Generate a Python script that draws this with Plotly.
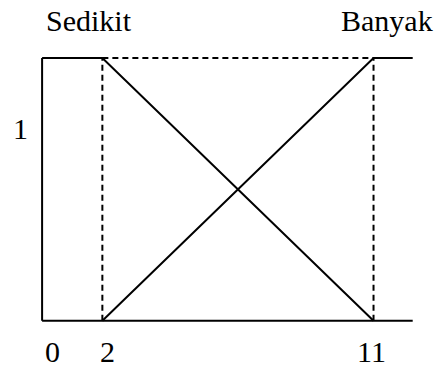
import plotly.graph_objects as go

# Data
x_ticks = [0, 2, 11]
x_tick_labels = ["0", "2", "11"]
y_ticks = [1]
y_tick_labels = ["1"]
x_max = 12.3

sedikit_x = [0, 2, 11]
sedikit_y = [1, 1, 0]
banyak_x = [2, 11, x_max]
banyak_y = [0, 1, 1]
set_names = ["Sedikit", "Banyak"]

W, H = 438, 368
X0PX, XSCALE = 42.1, 30.13
Y0PX, Y1PX = 320.7, 58.0
YSCALE = Y0PX - Y1PX

def dx(px):
    return (px - X0PX) / XSCALE

def dy(py):
    return (Y0PX - py) / YSCALE

line = dict(color="black", width=2)
dash = dict(color="black", width=2, dash="6px,4px")

fig = go.Figure()
# axes
fig.add_trace(go.Scatter(x=[0, 0], y=[0, y_ticks[0]], mode="lines", line=line))
fig.add_trace(go.Scatter(x=[0, x_max], y=[0, 0], mode="lines", line=line))
# dashed guides
fig.add_trace(go.Scatter(x=[x_ticks[1], x_ticks[1]], y=[0, 1], mode="lines", line=dash))
fig.add_trace(go.Scatter(x=[x_ticks[2], x_ticks[2]], y=[0, 1], mode="lines", line=dash))
fig.add_trace(go.Scatter(x=[x_ticks[1], x_ticks[2]], y=[1, 1], mode="lines", line=dash))
# membership functions
fig.add_trace(go.Scatter(x=sedikit_x, y=sedikit_y, mode="lines", line=line, name=set_names[0]))
fig.add_trace(go.Scatter(x=banyak_x, y=banyak_y, mode="lines", line=line, name=set_names[1]))

font = dict(family="Liberation Serif", size=30, color="black")
ann = []
tick_px = [(52, 351), (107.5, 351), (371.5, 351)]
for (px, py), lab in zip(tick_px, x_tick_labels):
    ann.append(dict(x=dx(px), y=dy(py), text=lab, showarrow=False, font=font,
                    xanchor="center", yanchor="middle"))
ann.append(dict(x=dx(20), y=dy(128.5), text=y_tick_labels[0], showarrow=False, font=font,
                xanchor="center", yanchor="middle"))
ann.append(dict(x=dx(88.5), y=dy(20), text=set_names[0], showarrow=False, font=font,
                xanchor="center", yanchor="middle"))
ann.append(dict(x=dx(386.5), y=dy(20), text=set_names[1], showarrow=False, font=font,
                xanchor="center", yanchor="middle"))

fig.update_layout(
    width=W, height=H,
    margin=dict(l=0, r=0, t=0, b=0),
    paper_bgcolor="white", plot_bgcolor="white",
    showlegend=False,
    hovermode=False,
    annotations=ann,
    xaxis=dict(range=[dx(0), dx(W)], visible=False),
    yaxis=dict(range=[dy(H), dy(0)], visible=False),
)

fig.write_html(
    "out.html",
    config={"displayModeBar": False, "staticPlot": True},
    post_script="document.body.style.margin='0';document.body.style.overflow='hidden';",
)
